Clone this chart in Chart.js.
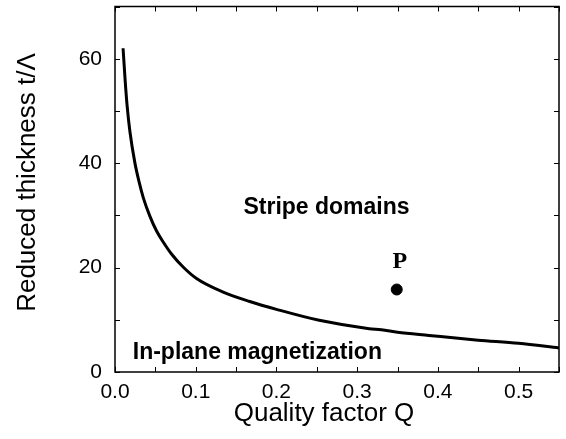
<!DOCTYPE html>
<html>
<head>
<meta charset="utf-8">
<script src="https://cdn.jsdelivr.net/npm/chart.js@4/dist/chart.umd.min.js"></script>
<style>
  html, body { margin: 0; padding: 0; background: #fff; }
  #wrap { width: 566px; height: 439px; }
</style>
</head>
<body>
<div id="wrap"><canvas id="chart"></canvas></div>
<script>
// phase boundary between stripe domains and in-plane magnetization
const qValues = [0.01, 0.0125, 0.015, 0.0185, 0.0247, 0.03, 0.035, 0.0433, 0.0515, 0.0597, 0.07, 0.0844, 0.101, 0.134, 0.167, 0.2, 0.253, 0.315, 0.33, 0.35, 0.389, 0.45, 0.5, 0.55]
const thickness = [62, 56, 51, 46, 40, 36.3, 33.4, 29.8, 27.0, 24.9, 22.6, 20.1, 17.9, 15.3, 13.5, 12.0, 9.9, 8.3, 8.1, 7.6, 7.0, 6.1, 5.5, 4.6]

// sample point P
const pointQ = [0.349]
const pointT = [15.8]

const xTicks = [0, 0.1, 0.2, 0.3, 0.4, 0.5]
const yTicks = [0, 20, 40, 60]
const xMinorStep = 0.05
const yMinorStep = 10

const FONT = 'Liberation Sans, Arial, Helvetica, sans-serif'

const frameAndLabels = {
    id: 'frameAndLabels',
    afterDatasetsDraw: (chart) => {
        const {ctx, chartArea: a} = chart
        const xs = chart.scales.x
        const ys = chart.scales.y
        ctx.save()
        ctx.strokeStyle = '#000'
        ctx.lineWidth = 1.5
        ctx.strokeRect(a.left, a.top, a.right - a.left, a.bottom - a.top)

        // inward ticks on all four sides
        ctx.lineWidth = 1
        for (let v = 0; v <= xs.max + 1e-9; v += xMinorStep) {
            const px = Math.round(xs.getPixelForValue(v)) + 0.5
            ctx.beginPath()
            ctx.moveTo(px, a.bottom); ctx.lineTo(px, a.bottom - 5)
            ctx.moveTo(px, a.top); ctx.lineTo(px, a.top + 5)
            ctx.stroke()
        }
        for (let v = 0; v <= ys.max + 1e-9; v += yMinorStep) {
            const py = Math.round(ys.getPixelForValue(v)) + 0.5
            ctx.beginPath()
            ctx.moveTo(a.left, py); ctx.lineTo(a.left + 5, py)
            ctx.moveTo(a.right, py); ctx.lineTo(a.right - 5, py)
            ctx.stroke()
        }

        ctx.fillStyle = '#000'
        ctx.textBaseline = 'middle'
        ctx.font = 'bold 23px ' + FONT
        ctx.textAlign = 'center'
        ctx.fillText('Stripe domains', xs.getPixelForValue(0.262), ys.getPixelForValue(31.4))
        ctx.textAlign = 'left'
        ctx.fillText('In-plane magnetization', xs.getPixelForValue(0.022), ys.getPixelForValue(3.8))

        const meta = chart.getDatasetMeta(1).data[0]
        ctx.font = 'bold 24px "Liberation Serif", "Times New Roman", serif'
        ctx.textAlign = 'center'
        ctx.fillText('P', meta.x + 3, meta.y - 28)

        // axis titles
        ctx.font = '26px ' + FONT
        ctx.fillText('Quality factor Q', a.left + 209, a.bottom + 42)
        ctx.translate(28, a.top + 176)
        ctx.rotate(-Math.PI / 2)
        ctx.fillText('Reduced thickness t/\u039B', 0, 0)
        ctx.restore()
    }
}

new Chart(document.getElementById('chart'), {
    type: 'scatter',
    data: {
        datasets: [{
            data: qValues.map((q, i) => ({x: q, y: thickness[i]})),
            showLine: true,
            borderColor: '#000',
            borderWidth: 3,
            pointRadius: 0,
            cubicInterpolationMode: 'monotone',
            fill: false
        }, {
            data: pointQ.map((q, i) => ({x: q, y: pointT[i]})),
            backgroundColor: '#000',
            borderColor: '#000',
            pointRadius: 5.5
        }]
    },
    options: {
        responsive: true,
        maintainAspectRatio: false,
        animation: false,
        layout: { padding: { top: 4, right: 7, left: 0, bottom: 0 } },
        plugins: {
            legend: { display: false },
            tooltip: { enabled: false }
        },
        scales: {
            x: {
                type: 'linear',
                min: 0,
                max: 0.55,
                grid: { display: false, drawTicks: false, tickLength: 0 },
                border: { display: false },
                afterBuildTicks: (scale) => { scale.ticks = xTicks.map(v => ({value: v})) },
                afterFit: (scale) => {
                    scale.height = 67
                    scale.paddingLeft = 0
                    scale.paddingRight = 0
                },
                ticks: {
                    color: '#000',
                    padding: 8,
                    maxRotation: 0,
                    font: { family: FONT, size: 21 },
                    callback: (v) => v.toFixed(1)
                }
            },
            y: {
                min: 0,
                max: 70,
                grid: { display: false, drawTicks: false, tickLength: 0 },
                border: { display: false },
                afterBuildTicks: (scale) => { scale.ticks = yTicks.map(v => ({value: v})) },
                afterFit: (scale) => {
                    scale.width = 115
                    scale.paddingTop = 0
                    scale.paddingBottom = 0
                },
                ticks: {
                    color: '#000',
                    padding: 13,
                    font: { family: FONT, size: 21 },
                    callback: (v) => String(v)
                }
            }
        }
    },
    plugins: [frameAndLabels]
});
</script>
</body>
</html>
